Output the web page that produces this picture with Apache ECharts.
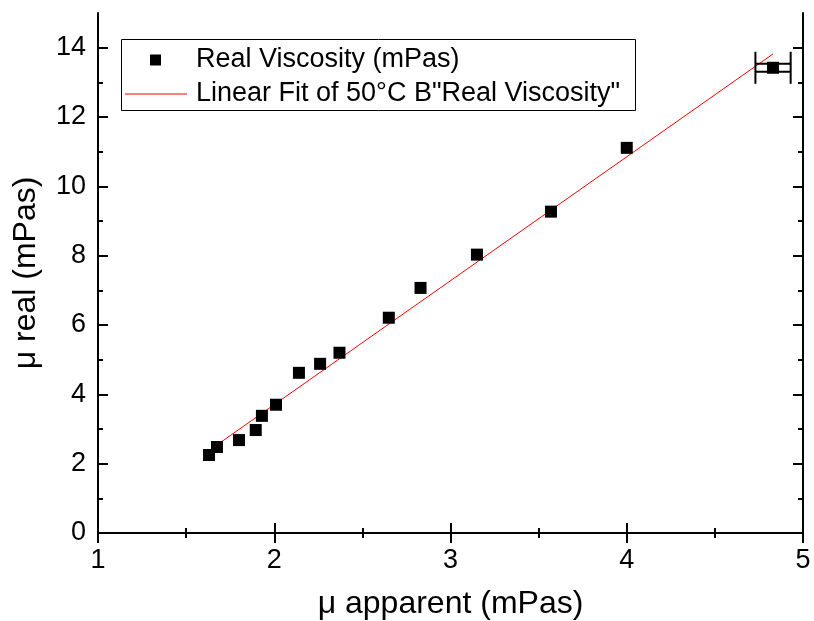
<!DOCTYPE html>
<html>
<head>
<meta charset="utf-8">
<script src="https://cdn.jsdelivr.net/npm/echarts@6/dist/echarts.min.js"></script>
<style>
html,body{margin:0;padding:0;background:#fff;}
#chart{width:814px;height:621px;}
</style>
</head>
<body>
<div id="chart"></div>
<script>
// measured points (apparent vs real viscosity)
var muApparent = [1.63, 1.675, 1.80, 1.895, 1.93, 2.01, 2.14, 2.26, 2.37, 2.65, 2.83, 3.15, 3.57, 4.00, 4.83];
var muReal     = [2.25, 2.48, 2.68, 2.97, 3.38, 3.70, 4.62, 4.88, 5.20, 6.21, 7.07, 8.03, 9.27, 11.11, 13.42];
var xErr       = [0, 0, 0, 0, 0, 0, 0, 0, 0, 0, 0, 0, 0, 0, 0.1];
var yErr       = [0, 0, 0, 0, 0, 0, 0, 0, 0, 0, 0, 0, 0, 0, 0.12];
// linear fit end points
var fitX = [1.63, 4.83];
var fitY = [2.38, 13.82];
// tick values
var yMajorTicks = [0, 2, 4, 6, 8, 10, 12, 14];
var yMinorTicks = [1, 3, 5, 7, 9, 11, 13];

var scatterName = 'Real Viscosity (mPas)';
var fitName = 'Linear Fit of 50°C B"Real Viscosity"';
var font = 'Liberation Sans, Arial, sans-serif';

var pts = [];
var errs = [];
for (var i = 0; i < muApparent.length; i++) {
	pts.push([muApparent[i], muReal[i]]);
	if (xErr[i] > 0 || yErr[i] > 0) errs.push([muApparent[i], muReal[i], xErr[i], yErr[i]]);
}
var fitData = [];
for (var j = 0; j < fitX.length; j++) fitData.push([fitX[j], fitY[j]]);

function yAx(pos, ticks, len, withLine) {
	return {
		type: 'value', position: pos, min: 0, max: 15,
		axisLine: {show: withLine, lineStyle: {color: '#000', width: 2}},
		axisTick: {show: true, inside: true, length: len, customValues: ticks, lineStyle: {color: '#000', width: 2}},
		axisLabel: {show: withLine && pos == 'left', customValues: yMajorTicks, color: '#000', fontSize: 27, fontFamily: font, margin: 12},
		splitLine: {show: false},
		name: (withLine && pos == 'left') ? 'μ real (mPas)' : '',
		nameLocation: 'middle', nameGap: 56,
		nameTextStyle: {color: '#000', fontSize: 32, fontFamily: font}
	};
}

function xAx(pos, withLabel) {
	return {
		type: 'value', position: pos, min: 1, max: 5, interval: 1,
		axisLine: {show: true, lineStyle: {color: '#000', width: 2}},
		axisTick: {show: true, inside: true, length: 10, lineStyle: {color: '#000', width: 2}},
		minorTick: {show: true, splitNumber: 2, length: 5, lineStyle: {color: '#000', width: 2}},
		axisLabel: {show: withLabel, color: '#000', fontSize: 27, fontFamily: font, margin: 14},
		splitLine: {show: false},
		name: withLabel ? 'μ apparent (mPas)' : '',
		nameLocation: 'middle', nameGap: 55,
		nameTextStyle: {color: '#000', fontSize: 32, fontFamily: font}
	};
}

var chart = echarts.init(document.getElementById('chart'));
var option = {
	animation: false,
	backgroundColor: '#fff',
	grid: {left: 98, top: 13, width: 705, height: 520, containLabel: false, outerBoundsMode: 'none'},
	graphic: [{
		type: 'rect', left: 121, top: 39, z: 10,
		shape: {width: 514, height: 71},
		style: {fill: '#fff', stroke: '#000', lineWidth: 1}
	}],
	legend: [{
		data: [{name: scatterName, icon: 'rect'}],
		left: 150, top: 46, padding: 0, z: 20,
		itemWidth: 11, itemHeight: 11,
		itemStyle: {color: '#000', opacity: 1},
		textStyle: {color: '#000', fontSize: 27, fontFamily: font, lineHeight: 28, padding: [0, 0, 0, 30]}
	}, {
		data: [{name: fitName, icon: 'rect'}],
		left: 125, top: 80, padding: 0, z: 20,
		itemWidth: 62, itemHeight: 1,
		textStyle: {color: '#000', fontSize: 27, fontFamily: font, lineHeight: 28, padding: [0, 0, 0, 4]}
	}],
	xAxis: [xAx('bottom', true), xAx('top', false)],
	yAxis: [
		yAx('left', yMajorTicks, 10, true),
		yAx('left', yMinorTicks, 5, false),
		yAx('right', yMajorTicks, 10, true),
		yAx('right', yMinorTicks, 5, false)
	],
	series: [{
		name: fitName, type: 'line', data: fitData,
		symbol: 'none', showSymbol: false, z: 3,
		lineStyle: {color: '#ff0000', width: 1},
		itemStyle: {color: '#ff0000'}
	}, {
		name: 'errors', type: 'custom', data: errs, z: 4,
		renderItem: function(params, api) {
			var x = api.value(0), y = api.value(1), dx = api.value(2), dy = api.value(3);
			var pl = api.coord([x - dx, y]), pr = api.coord([x + dx, y]);
			var pt = api.coord([x, y + dy]), pb = api.coord([x, y - dy]);
			var st = {stroke: '#000', lineWidth: 2};
			return {type: 'group', children: [
				{type: 'line', shape: {x1: pl[0], y1: pl[1] - 4, x2: pr[0], y2: pr[1] - 4}, style: st},
				{type: 'line', shape: {x1: pl[0], y1: pl[1] + 4, x2: pr[0], y2: pr[1] + 4}, style: st},
				{type: 'line', shape: {x1: pl[0], y1: pl[1] - 16, x2: pl[0], y2: pl[1] + 16}, style: st},
				{type: 'line', shape: {x1: pr[0], y1: pr[1] - 16, x2: pr[0], y2: pr[1] + 16}, style: st},
				{type: 'line', shape: {x1: pt[0], y1: pt[1], x2: pb[0], y2: pb[1]}, style: st}
			]};
		}
	}, {
		name: scatterName, type: 'scatter', data: pts,
		symbol: 'rect', symbolSize: 12, z: 5,
		itemStyle: {color: '#000', opacity: 1}
	}]
};
chart.setOption(option);
</script>
</body>
</html>
